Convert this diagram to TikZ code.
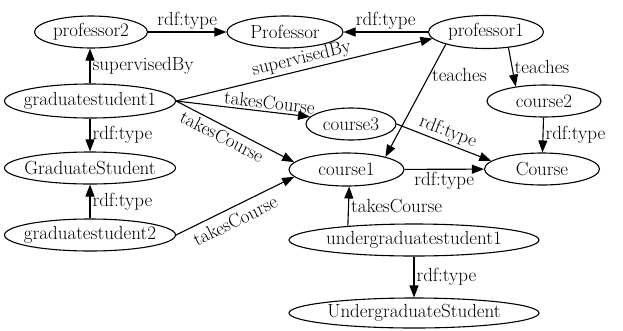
\documentclass[tikz,border=0pt]{standalone}
\usetikzlibrary{shapes.geometric,arrows.meta}
\newcommand\tx[1]{\makebox[0pt]{#1}}
\begin{document}
\begin{tikzpicture}[x=1pt,y=-1pt,
  ent/.style={ellipse, draw, line width=1.1pt, inner sep=0pt, font=\fontsize{19}{22}\selectfont},
  arr/.style={-{Triangle[length=12pt,width=9pt]}, line width=1.1pt},
  lab/.style={font=\fontsize{19}{22}\selectfont, inner sep=2pt}]
\useasboundingbox (0,0) rectangle (623,330);
% nodes
\node[ent, minimum width=113pt, minimum height=32pt] (p2) at (91,32) {\tx{professor2}};
\node[ent, minimum width=116pt, minimum height=32pt] (P) at (285,32) {\tx{Professor}};
\node[ent, minimum width=115pt, minimum height=33pt] (p1) at (486,32) {\tx{professor1}};
\node[ent, minimum width=171pt, minimum height=34pt] (gs1) at (90,101) {\tx{graduatestudent1}};
\node[ent, minimum width=171pt, minimum height=32pt] (GS) at (90,168) {\tx{GraduateStudent}};
\node[ent, minimum width=171pt, minimum height=32pt] (gs2) at (90,235) {\tx{graduatestudent2}};
\node[ent, minimum width=90pt, minimum height=32pt] (c3) at (351,124) {\tx{course3}};
\node[ent, minimum width=114pt, minimum height=32pt] (c2) at (544,101) {\tx{course2}};
\node[ent, minimum width=115pt, minimum height=33pt] (c1) at (346.5,169.5) {\tx{course1}};
\node[ent, minimum width=115pt, minimum height=32pt] (C) at (542,169) {\tx{Course}};
\node[ent, minimum width=250pt, minimum height=32pt] (ug1) at (414,240) {\tx{undergraduatestudent1}};
\node[ent, minimum width=250pt, minimum height=30pt] (UG) at (414,313) {\tx{UndergraduateStudent}};
% edges
\draw[arr] (p2) -- (P) node[lab, midway, above] {rdf:type};
\draw[arr] (p1) -- (P) node[lab, midway, above] {rdf:type};
\draw[arr] (gs1.north) -- (gs1.north |- p2.south) node[lab, midway, right] {supervisedBy};
\draw[arr] (gs1.east) -- (p1.187) node[lab, midway, above, sloped] {supervisedBy};
\draw[arr] (gs1.east) -- (c3.170) node[lab, pos=.69, above, sloped] {takesCourse};
\draw[arr] (gs1.east) -- (c1.172) node[lab, pos=.43, below=1pt, sloped] {takesCourse};
\draw[arr] (gs1) -- (GS) node[lab, midway, right] {rdf:type};
\draw[arr] (p1.197) -- (c1.18) node[lab, pos=.27, right] {teaches};
\draw[arr] (p1.-35) -- (c2.153) node[lab, midway, right] {teaches};
\draw[arr] (c2) -- (C) node[lab, midway, right] {rdf:type};
\draw[arr] (c3.east) -- (C.171) node[lab, pos=.5, above, sloped] {rdf:type};
\draw[arr] (c1) -- (C) node[lab, midway, below] {rdf:type};
\draw[arr] (gs2) -- (GS) node[lab, midway, right] {rdf:type};
\draw[arr] (gs2.east) -- (c1.188) node[lab, pos=.45, below=4pt, sloped] {takesCourse};
\draw[arr] (ug1.168) -- (c1.-81) node[lab, midway, right] {takesCourse};
\draw[arr] (ug1) -- (UG) node[lab, midway, right] {rdf:type};
\end{tikzpicture}
\end{document}
